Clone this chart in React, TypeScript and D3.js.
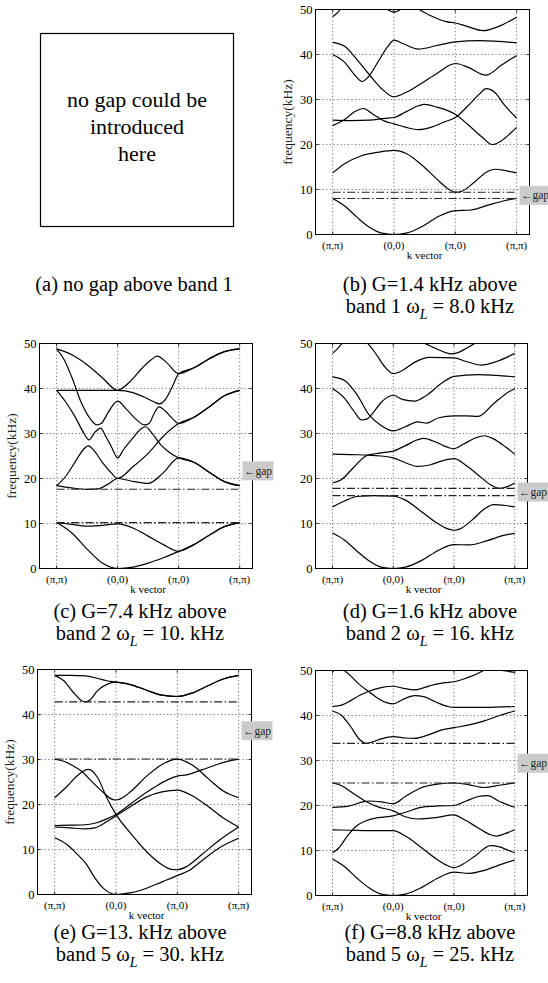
import React from "react";
import * as d3 from "d3";

type Pt = [number, number];

const FONT = "'Liberation Serif', 'Times New Roman', Times, serif";

// symmetry points along the path M → Γ → X → M
const kLabels = ["(π,π)", "(0,0)", "(π,0)", "(π,π)"];
const kPositions = [0, 1, 2, 3];
const freqTicks = [0, 10, 20, 30, 40, 50];
const freqGrid = [10, 20, 30, 40];

// ---- (b) band curves, [k, kHz] ----
const bandsB: Pt[][] = [
  [[0, 8.0], [0.2, 6.3], [0.4, 3.8], [0.6, 1.6], [0.8, 0.3], [1, 0], [1.2, 0.3], [1.47, 1.85], [1.74, 4.1], [2, 5.3], [2.25, 5.45], [2.55, 6.6], [2.8, 7.5], [3, 8.0]],
  [[0, 13.7], [0.2, 15.8], [0.45, 17.4], [0.75, 18.3], [1, 18.7], [1.2, 18.0], [1.45, 15.5], [1.7, 12.3], [1.9, 10.0], [2, 9.4], [2.1, 9.6], [2.3, 11.5], [2.5, 13.8], [2.65, 14.5], [2.85, 14.1], [3, 13.7]],
  [[0, 24.2], [0.2, 25.6], [0.35, 27.2], [0.5, 28.0], [0.65, 26.8], [0.85, 25.2], [1, 24.6], [1.2, 23.8], [1.4, 23.3], [1.6, 23.8], [1.8, 24.9], [2, 26.0], [2.2, 28.5], [2.4, 31.3], [2.5, 32.4], [2.65, 31.5], [2.8, 28.8], [3, 25.9]],
  [[0, 25.4], [0.3, 25.3], [0.6, 25.4], [0.85, 25.8], [1, 26.0], [1.2, 27.3], [1.4, 28.6], [1.5, 28.9], [1.7, 28.3], [2, 26.7], [2.2, 24.5], [2.45, 21.5], [2.6, 20.0], [2.75, 20.8], [2.9, 22.5], [3, 23.8]],
  [[0, 42.7], [0.2, 41.8], [0.4, 38.8], [0.6, 35.5], [0.8, 32.4], [1, 30.6], [1.2, 31.6], [1.45, 33.6], [1.7, 35.8], [2, 38.0], [2.2, 37.2], [2.5, 35.4], [2.75, 37.6], [3, 39.8]],
  [[0, 40.0], [0.2, 38.2], [0.35, 35.6], [0.48, 34.0], [0.58, 35.0], [0.75, 38.6], [0.9, 41.8], [1, 43.2], [1.15, 42.4], [1.4, 41.2], [1.7, 42.0], [2, 42.8], [2.4, 43.1], [2.7, 42.9], [3, 42.6]],
  [[0, 48.4], [0.08, 49.3], [0.15, 50.5]],
  [[0.85, 50.5], [1, 49.4], [1.15, 50.5]],
  [[1.35, 50.5], [1.6, 48.6], [1.85, 47.3], [2, 47.0], [2.2, 46.2], [2.45, 45.3], [2.7, 46.2], [3, 48.3]],
];

// ---- (c) ----
const bandsC: Pt[][] = [
  [[0, 10.2], [0.25, 7.9], [0.5, 4.3], [0.75, 1.2], [1, 0], [1.25, 0.3], [1.5, 1.2], [1.75, 2.4], [2, 3.8], [2.25, 5.3], [2.5, 7.4], [2.75, 9.3], [3, 10.2]],
  [[0, 10.2], [0.25, 9.8], [0.5, 9.4], [0.75, 9.6], [1, 9.9], [1.25, 9.0], [1.5, 7.2], [1.75, 5.3], [2, 3.8], [2.25, 5.3], [2.5, 7.4], [2.75, 9.3], [3, 10.2]],
  [[0, 18.4], [0.25, 17.9], [0.5, 17.6], [0.68, 17.7], [0.85, 18.8], [1, 20.0], [1.2, 19.5], [1.5, 18.9], [1.75, 21.3], [2, 24.6], [2.25, 23.6], [2.5, 21.4], [2.75, 19.3], [3, 18.4]],
  [[0, 18.4], [0.15, 20.5], [0.3, 23.6], [0.45, 26.6], [0.52, 27.3], [0.6, 26.4], [0.75, 23.6], [0.9, 21.2], [1, 20.0], [1.25, 22.6], [1.5, 25.6], [1.75, 29.4], [2, 32.2], [2.25, 33.6], [2.5, 35.9], [2.75, 38.4], [3, 39.6]],
  [[0, 39.6], [0.15, 37.0], [0.3, 33.8], [0.45, 30.0], [0.53, 28.6], [0.63, 30.3], [0.72, 31.2], [0.8, 29.5], [0.9, 27.0], [1, 24.6], [1.1, 26.5], [1.25, 29.0], [1.38, 31.0], [1.46, 31.5], [1.55, 30.3], [1.7, 27.6], [1.85, 25.8], [2, 24.6], [2.25, 23.6], [2.5, 21.4], [2.75, 19.3], [3, 18.4]],
  [[0, 48.8], [0.12, 46.5], [0.25, 42.5], [0.4, 37.0], [0.55, 33.3], [0.66, 31.9], [0.73, 32.2], [0.85, 34.8], [1, 37.2], [1.15, 35.3], [1.3, 33.2], [1.44, 31.9], [1.52, 32.3], [1.6, 34.5], [1.68, 35.9], [1.78, 35.0], [1.9, 33.3], [2, 32.2], [2.25, 33.6], [2.5, 35.9], [2.75, 38.4], [3, 39.6]],
  [[0, 39.6], [0.5, 39.6], [1, 39.6], [1.25, 39.1], [1.45, 38.0], [1.6, 37.0], [1.68, 36.6], [1.78, 37.5], [1.9, 40.5], [2, 43.3], [2.25, 44.6], [2.5, 46.6], [2.75, 48.2], [3, 48.8]],
  [[0, 48.8], [0.25, 47.5], [0.5, 45.3], [0.75, 42.4], [1, 39.6], [1.2, 41.5], [1.4, 44.5], [1.55, 46.4], [1.65, 47.2], [1.8, 45.8], [2, 43.3], [2.25, 44.6], [2.5, 46.6], [2.75, 48.2], [3, 48.8]],
];

// ---- (d) ----
const bandsD: Pt[][] = [
  [[0, 7.9], [0.2, 6.3], [0.4, 3.9], [0.6, 1.7], [0.8, 0.3], [1, 0], [1.2, 0.3], [1.47, 1.8], [1.74, 4.0], [2, 5.3], [2.25, 5.25], [2.55, 6.2], [2.8, 7.3], [3, 7.8]],
  [[0, 13.7], [0.2, 15.0], [0.4, 16.0], [0.7, 16.2], [1, 16.1], [1.2, 15.2], [1.45, 12.8], [1.7, 10.3], [1.9, 8.8], [2, 8.5], [2.1, 8.8], [2.3, 10.8], [2.5, 13.2], [2.65, 14.2], [2.85, 14.0], [3, 13.7]],
  [[0, 19.0], [0.15, 19.8], [0.35, 22.5], [0.55, 25.0], [0.7, 25.5], [0.85, 25.8], [1, 26.1], [1.2, 27.3], [1.4, 28.6], [1.5, 28.9], [1.7, 28.1], [1.9, 26.9], [2, 26.6], [2.15, 27.6], [2.35, 29.0], [2.5, 29.5], [2.65, 28.8], [2.85, 27.0], [3, 25.4]],
  [[0, 25.4], [0.3, 25.3], [0.6, 25.2], [0.8, 25.0], [1, 24.6], [1.2, 23.5], [1.4, 22.7], [1.6, 23.0], [1.8, 23.9], [2, 24.4], [2.2, 22.9], [2.45, 20.2], [2.6, 18.6], [2.75, 17.8], [2.9, 18.3], [3, 19.0]],
  [[0, 40.0], [0.2, 37.8], [0.35, 35.0], [0.48, 33.0], [0.58, 33.3], [0.65, 34.3], [0.8, 36.9], [1, 38.5], [1.15, 37.6], [1.35, 37.2], [1.55, 38.5], [1.8, 41.2], [2, 42.7], [2.4, 43.1], [2.7, 42.9], [3, 42.6]],
  [[0, 42.6], [0.2, 41.8], [0.4, 38.7], [0.6, 34.2], [0.8, 31.8], [1, 30.6], [1.2, 31.5], [1.4, 32.6], [1.55, 32.3], [1.75, 33.5], [2, 33.9], [2.2, 33.9], [2.4, 33.8], [2.65, 36.6], [2.85, 38.8], [3, 40.0]],
  [[0, 47.8], [0.08, 48.8], [0.18, 50.5]],
  [[0.55, 50.5], [0.7, 48.0], [0.85, 45.0], [1, 43.3], [1.15, 44.0], [1.35, 45.8], [1.6, 46.9], [2, 46.8], [2.2, 46.0], [2.45, 45.2], [2.7, 46.0], [3, 47.8]],
  [[1.45, 50.5], [1.7, 48.9], [1.95, 47.7], [2.05, 47.9], [2.25, 49.3], [2.4, 50.5]],
];

// ---- (e) ----
const bandsE: Pt[][] = [
  [[0, 12.6], [0.2, 11.1], [0.35, 9.2], [0.52, 6.7], [0.65, 3.8], [0.8, 1.3], [1, 0], [1.25, 0.4], [1.5, 1.4], [1.75, 2.8], [2, 4.2], [2.2, 5.4], [2.4, 7.5], [2.7, 10.5], [3, 12.5]],
  [[0, 15.3], [0.25, 15.4], [0.5, 15.5], [0.7, 16.0], [0.85, 16.8], [1, 17.8], [1.15, 19.2], [1.35, 21.3], [1.6, 23.6], [1.8, 25.2], [2, 26.3], [2.15, 26.6], [2.4, 27.7], [2.65, 28.9], [2.85, 29.7], [3, 30.1]],
  [[0, 15.0], [0.25, 14.8], [0.5, 14.6], [0.65, 14.8], [0.85, 16.2], [1, 17.5], [1.2, 19.2], [1.5, 21.7], [1.75, 22.8], [2, 23.2], [2.25, 21.9], [2.5, 19.6], [2.75, 17.0], [3, 15.0]],
  [[0, 21.5], [0.2, 24.0], [0.4, 26.8], [0.55, 27.8], [0.7, 26.0], [0.85, 21.5], [1, 17.8], [1.25, 13.4], [1.5, 9.5], [1.75, 6.6], [1.9, 5.6], [2, 5.5], [2.15, 6.2], [2.4, 8.9], [2.7, 12.2], [3, 15.0]],
  [[0, 30.1], [0.15, 29.6], [0.3, 28.6], [0.44, 27.4], [0.6, 25.2], [0.8, 22.6], [0.93, 21.2], [1, 21.0], [1.08, 21.3], [1.25, 23.0], [1.5, 26.3], [1.75, 28.9], [2, 30.1], [2.25, 28.7], [2.5, 25.8], [2.75, 23.0], [3, 21.5]],
  [[0, 48.7], [0.25, 48.7], [0.5, 48.6], [0.7, 48.0], [0.85, 47.5], [1, 47.2], [1.25, 46.6], [1.5, 45.4], [1.75, 44.3], [2, 44.0], [2.25, 44.8], [2.5, 46.4], [2.75, 47.9], [3, 48.7]],
  [[0, 48.7], [0.15, 47.5], [0.3, 45.0], [0.45, 43.0], [0.5, 42.8], [0.58, 43.3], [0.7, 45.3], [0.85, 46.7], [1, 47.2], [1.25, 46.6], [1.5, 45.4], [1.75, 44.3], [2, 44.0], [2.25, 44.8], [2.5, 46.4], [2.75, 47.9], [3, 48.7]],
];

// ---- (f) ----
const bandsF: Pt[][] = [
  [[0, 8.1], [0.2, 6.4], [0.4, 3.9], [0.6, 1.7], [0.8, 0.3], [1, 0], [1.2, 0.3], [1.47, 1.8], [1.74, 3.9], [2, 5.2], [2.25, 4.9], [2.5, 5.6], [2.75, 6.8], [3, 7.9]],
  [[0, 9.5], [0.1, 10.5], [0.25, 13.3], [0.4, 15.5], [0.55, 16.6], [0.75, 17.3], [1, 17.7], [1.2, 18.5], [1.5, 19.7], [1.75, 19.9], [2, 20.0], [2.2, 21.0], [2.4, 22.0], [2.55, 22.2], [2.75, 20.9], [3, 19.6]],
  [[0, 14.6], [0.3, 14.5], [0.6, 14.4], [1, 14.4], [1.2, 13.2], [1.45, 10.8], [1.7, 8.2], [1.9, 6.6], [2, 6.2], [2.15, 7.0], [2.35, 8.8], [2.6, 11.1], [2.75, 10.8], [2.9, 10.0], [3, 9.5]],
  [[0, 19.6], [0.25, 19.8], [0.5, 20.8], [0.6, 21.0], [0.8, 20.8], [1, 20.4], [1.2, 22.0], [1.45, 23.9], [1.7, 24.7], [2, 25.0], [2.25, 24.6], [2.5, 24.0], [2.75, 24.5], [3, 25.0]],
  [[0, 25.0], [0.15, 24.4], [0.35, 22.6], [0.55, 20.9], [0.75, 19.7], [1, 18.8], [1.2, 17.5], [1.4, 17.0], [1.7, 17.3], [2, 17.9], [2.15, 17.0], [2.4, 15.0], [2.6, 13.5], [2.7, 13.2], [2.85, 13.8], [3, 14.6]],
  [[0, 41.0], [0.15, 40.0], [0.3, 37.5], [0.45, 34.6], [0.55, 33.8], [0.65, 34.1], [0.8, 34.8], [1, 35.3], [1.2, 35.0], [1.35, 34.9], [1.6, 35.8], [1.8, 36.8], [2, 37.3], [2.25, 37.9], [2.5, 38.8], [2.75, 40.0], [3, 41.0]],
  [[0, 42.0], [0.15, 42.3], [0.3, 43.3], [0.45, 44.5], [0.6, 45.4], [0.8, 46.2], [1, 46.5], [1.15, 46.1], [1.35, 45.7], [1.6, 46.6], [1.85, 47.3], [2, 47.5], [2.2, 48.3], [2.4, 49.4], [2.55, 50.5]],
  [[0.15, 50.5], [0.3, 48.8], [0.45, 46.8], [0.6, 45.3], [0.75, 43.8], [0.9, 42.8], [1, 42.6], [1.15, 43.5], [1.35, 44.4], [1.5, 44.2], [1.7, 43.0], [1.9, 42.0], [2, 41.8], [2.5, 41.8], [3, 42.0]],
  [[0, 49.7], [0.05, 50.5]],
  [[2.6, 50.5], [2.85, 49.9], [3, 49.6]],
];

// gap edges (lower, upper) in kHz
const gapB: [number, number] = [8.0, 9.4];
const gapC: [number, number] = [10.2, 17.6];
const gapD: [number, number] = [16.2, 17.8];
const gapE: [number, number] = [30.1, 42.8];
const gapF: [number, number] = [25.0, 33.8];

// captions: first line, second line before ω, value after ω_L
const captionA = "(a) no gap above band 1";
const captionB = ["(b) G=1.4 kHz above", "band 1 ω", "= 8.0 kHz"];
const captionC = ["(c) G=7.4 kHz above", "band 2 ω", "= 10. kHz"];
const captionD = ["(d) G=1.6 kHz above", "band 2 ω", "= 16. kHz"];
const captionE = ["(e) G=13. kHz above", "band 5 ω", "= 30. kHz"];
const captionF = ["(f) G=8.8 kHz above", "band 5 ω", "= 25. kHz"];
const noGapLines = ["no gap could be", "introduced", "here"];

interface PanelSpec {
  id: string;
  left: number;
  top: number;
  width: number;
  height: number;
  bands: Pt[][];
  gap: [number, number];
  tagAt: number;
  yLabel: boolean;
  caption: string[];
  captionX: number;
  captionY: number;
}

const W = 213;
const H = 225;

const panels: PanelSpec[] = [
  { id: "b", left: 315.5, top: 9.5, width: W + 1, height: H, bands: bandsB, gap: gapB, tagAt: 8.7, yLabel: true, caption: captionB, captionX: 430, captionY: 291 },
  { id: "c", left: 39.5, top: 343.5, width: W, height: H, bands: bandsC, gap: gapC, tagAt: 21.7, yLabel: true, caption: captionC, captionX: 140, captionY: 618 },
  { id: "d", left: 315.5, top: 343.5, width: W - 1, height: H, bands: bandsD, gap: gapD, tagAt: 17.0, yLabel: false, caption: captionD, captionX: 430, captionY: 618 },
  { id: "e", left: 37.5, top: 669.5, width: W + 1, height: H, bands: bandsE, gap: gapE, tagAt: 36.4, yLabel: true, caption: captionE, captionX: 140, captionY: 939 },
  { id: "f", left: 315.5, top: 670.5, width: W - 1, height: H, bands: bandsF, gap: gapF, tagAt: 29.4, yLabel: false, caption: captionF, captionX: 430, captionY: 939 },
];

function Caption({ x, y, lines }: { x: number; y: number; lines: string[] }) {
  return (
    <g fontFamily={FONT} fontSize={20.5} fill="#000" textAnchor="middle">
      <text x={x} y={y}>{lines[0]}</text>
      <text x={x} y={y + 22}>
        <tspan>{lines[1]}</tspan>
        <tspan fontStyle="italic" fontSize={14} dy={6}>L</tspan>
        <tspan dy={-6}>{" " + lines[2]}</tspan>
      </text>
    </g>
  );
}

function BandPanel({ p }: { p: PanelSpec }) {
  const x = d3.scaleLinear().domain([-0.28, 3.21]).range([p.left, p.left + p.width]);
  const y = d3.scaleLinear().domain([0, 50]).range([p.top + p.height, p.top]);
  const line = d3
    .line<Pt>()
    .x((d) => x(d[0]))
    .y((d) => y(d[1]))
    .curve(d3.curveMonotoneX);
  const right = p.left + p.width;
  const bottom = p.top + p.height;
  const clipId = `clip-${p.id}`;
  const tagY = y(p.tagAt);
  return (
    <g>
      <defs>
        <clipPath id={clipId}>
          <rect x={p.left} y={p.top} width={p.width} height={p.height} />
        </clipPath>
      </defs>
      {/* dotted grid */}
      <g stroke="#333" strokeWidth={0.8} strokeDasharray="1,2.6" fill="none">
        {kPositions.map((k) => (
          <line key={`gx${k}`} x1={x(k)} x2={x(k)} y1={p.top} y2={bottom} />
        ))}
        {freqGrid.map((f) => (
          <line key={`gy${f}`} x1={p.left} x2={right} y1={y(f)} y2={y(f)} />
        ))}
      </g>
      {/* tick marks */}
      <g stroke="#000" strokeWidth={0.8}>
        {freqTicks.map((f) => (
          <g key={`t${f}`}>
            <line x1={p.left} x2={p.left + 3} y1={y(f)} y2={y(f)} />
            <line x1={right} x2={right - 3} y1={y(f)} y2={y(f)} />
          </g>
        ))}
        {kPositions.map((k) => (
          <g key={`tk${k}`}>
            <line x1={x(k)} x2={x(k)} y1={bottom} y2={bottom - 3} />
            <line x1={x(k)} x2={x(k)} y1={p.top} y2={p.top + 3} />
          </g>
        ))}
      </g>
      {/* band curves */}
      <g clipPath={`url(#${clipId})`} fill="none" stroke="#000" strokeWidth={1.2}>
        {p.bands.map((b, i) => (
          <path key={i} d={line(b) ?? ""} />
        ))}
      </g>
      {/* gap edges */}
      <g stroke="#222" strokeWidth={1.1} strokeDasharray="8,2.5,1.5,2.5" fill="none">
        {p.gap.map((g, i) => (
          <line key={i} x1={x(0)} x2={x(3)} y1={y(g)} y2={y(g)} />
        ))}
      </g>
      {/* frame */}
      <rect x={p.left} y={p.top} width={p.width} height={p.height} fill="none" stroke="#000" strokeWidth={1} />
      {/* y tick labels */}
      <g fontFamily={FONT} fontSize={12.5} fill="#000" textAnchor="end">
        {freqTicks.map((f) => (
          <text key={f} x={p.left - 3} y={y(f)} dy="0.35em">{f}</text>
        ))}
      </g>
      {/* x tick labels */}
      <g fontFamily={FONT} fontSize={11} fill="#000" textAnchor="middle">
        {kLabels.map((s, i) => (
          <text key={i} x={x(kPositions[i])} y={bottom + 14.5}>{s}</text>
        ))}
        <text x={x(1.5)} y={bottom + 24}>k vector</text>
      </g>
      {p.yLabel && (
        <text
          transform={`translate(${p.left - 24},${p.top + p.height / 2}) rotate(-90)`}
          textAnchor="middle"
          fontFamily={FONT}
          fontSize={13.5}
          fill="#222"
        >
          frequency(kHz)
        </text>
      )}
      {/* gap tag */}
      <rect x={right - 10} y={tagY - 9.5} width={31} height={19} fill="#cbcbcb" />
      <text x={right - 8.5} y={tagY} dy="0.35em" fontFamily={FONT} fontSize={11.5} fill="#222">
        ←gap
      </text>
      <Caption x={p.captionX} y={p.captionY} lines={p.caption} />
    </g>
  );
}

export default function App() {
  return (
    <svg
      width={548}
      height={983}
      viewBox="0 0 548 983"
      style={{ position: "absolute", left: 0, top: 0, background: "#fff" }}
    >
      <rect x={0} y={0} width={548} height={983} fill="#fff" />
      {/* (a) */}
      <rect x={40.5} y={33.5} width={193} height={193} fill="none" stroke="#000" strokeWidth={1.2} />
      <g fontFamily={FONT} fontSize={22} fill="#000" textAnchor="middle">
        {noGapLines.map((s, i) => (
          <text key={i} x={137} y={107 + i * 27}>{s}</text>
        ))}
      </g>
      <text x={134} y={291} fontFamily={FONT} fontSize={20.5} textAnchor="middle" fill="#000">
        {captionA}
      </text>
      {panels.map((p) => (
        <BandPanel key={p.id} p={p} />
      ))}
    </svg>
  );
}
